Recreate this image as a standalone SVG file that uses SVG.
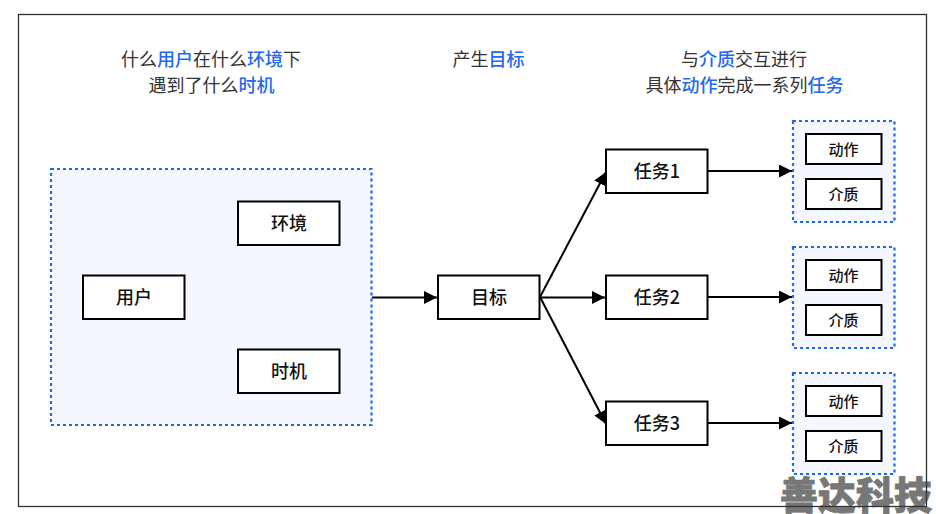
<svg xmlns="http://www.w3.org/2000/svg" width="936" height="514" viewBox="0 0 936 514">
<style>
text{font-family:"Noto Sans CJK SC","Noto Sans",sans-serif;text-anchor:middle}
.cap{font-size:18px;fill:#333}
.cap tspan{fill:#2468f2;font-weight:500}
.n rect,.s rect{fill:#fff;stroke:#000;stroke-width:2}
.n text{font-size:18px;font-weight:500;fill:#111}
.s text{font-size:15px;font-weight:500;fill:#111}
.d{fill:#f4f7ff;stroke:#1e66f5;stroke-width:2.200;stroke-dasharray:3 3}
.c line{stroke:#000;stroke-width:2;marker-end:url(#a)}
</style>
<defs><marker id="a" markerUnits="userSpaceOnUse" markerWidth="14" markerHeight="14" refX="13" refY="6.500" orient="auto"><path d="M0 0L13 6.500L0 13Z" fill="#000"/></marker></defs>
<rect width="936" height="514" fill="#fff"/>
<g id="watermark"><text x="856" y="509" fill="#777" stroke="#777" stroke-width="0.800" style="font-size:38px;font-weight:900">善达科技</text></g>
<rect id="frame" x="18.500" y="14.500" width="908" height="492" fill="none" stroke="#333" stroke-width="1.300"/>
<g id="captions">
<text class="cap" x="211" y="66">什么<tspan>用户</tspan>在什么<tspan>环境</tspan>下</text>
<text class="cap" x="211.500" y="92">遇到了什么<tspan>时机</tspan></text>
<text class="cap" x="488.500" y="66">产生<tspan>目标</tspan></text>
<text class="cap" x="744" y="66">与<tspan>介质</tspan>交互进行</text>
<text class="cap" x="744.500" y="92">具体<tspan>动作</tspan>完成一系列<tspan>任务</tspan></text>
</g>
<rect id="context" class="d" x="51" y="169" width="320.500" height="256"/>
<rect id="group1" class="d" x="793" y="121" width="101.500" height="101"/>
<rect id="group2" class="d" x="793" y="247" width="101.500" height="101"/>
<rect id="group3" class="d" x="793" y="373" width="101.500" height="101"/>
<g id="connectors" class="c">
<line x1="372" y1="297.500" x2="437" y2="297.500"/>
<line x1="540" y1="297" x2="606" y2="172"/>
<line x1="540" y1="297.500" x2="605" y2="297.500"/>
<line x1="540" y1="297" x2="606" y2="424"/>
<line x1="707" y1="171" x2="792" y2="171"/>
<line x1="707" y1="297" x2="792" y2="297"/>
<line x1="707" y1="423" x2="792" y2="423"/>
</g>
<g id="user" class="n"><rect x="83" y="275.500" width="101.500" height="43.500"/><text x="134" y="303.500">用户</text></g>
<g id="env" class="n"><rect x="238" y="201.500" width="101.500" height="43.500"/><text x="289" y="229.500">环境</text></g>
<g id="moment" class="n"><rect x="238" y="349.500" width="101.500" height="43.500"/><text x="289" y="377.500">时机</text></g>
<g id="goal" class="n"><rect x="438" y="275.500" width="101.500" height="43.500"/><text x="489" y="303.500">目标</text></g>
<g id="task1" class="n"><rect x="606" y="149.500" width="101.500" height="43.500"/><text x="657" y="177.500">任务1</text></g>
<g id="task2" class="n"><rect x="606" y="275.500" width="101.500" height="43.500"/><text x="657" y="303.500">任务2</text></g>
<g id="task3" class="n"><rect x="606" y="401.500" width="101.500" height="43.500"/><text x="657" y="429.500">任务3</text></g>
<g id="action1" class="s"><rect x="806" y="134" width="75.500" height="30"/><text x="843.500" y="154.500">动作</text></g>
<g id="medium1" class="s"><rect x="806" y="179" width="75.500" height="30"/><text x="843.500" y="199.500">介质</text></g>
<g id="action2" class="s"><rect x="806" y="260" width="75.500" height="30"/><text x="843.500" y="280.500">动作</text></g>
<g id="medium2" class="s"><rect x="806" y="305" width="75.500" height="30"/><text x="843.500" y="325.500">介质</text></g>
<g id="action3" class="s"><rect x="806" y="386" width="75.500" height="30"/><text x="843.500" y="406.500">动作</text></g>
<g id="medium3" class="s"><rect x="806" y="431" width="75.500" height="30"/><text x="843.500" y="451.500">介质</text></g>
</svg>
